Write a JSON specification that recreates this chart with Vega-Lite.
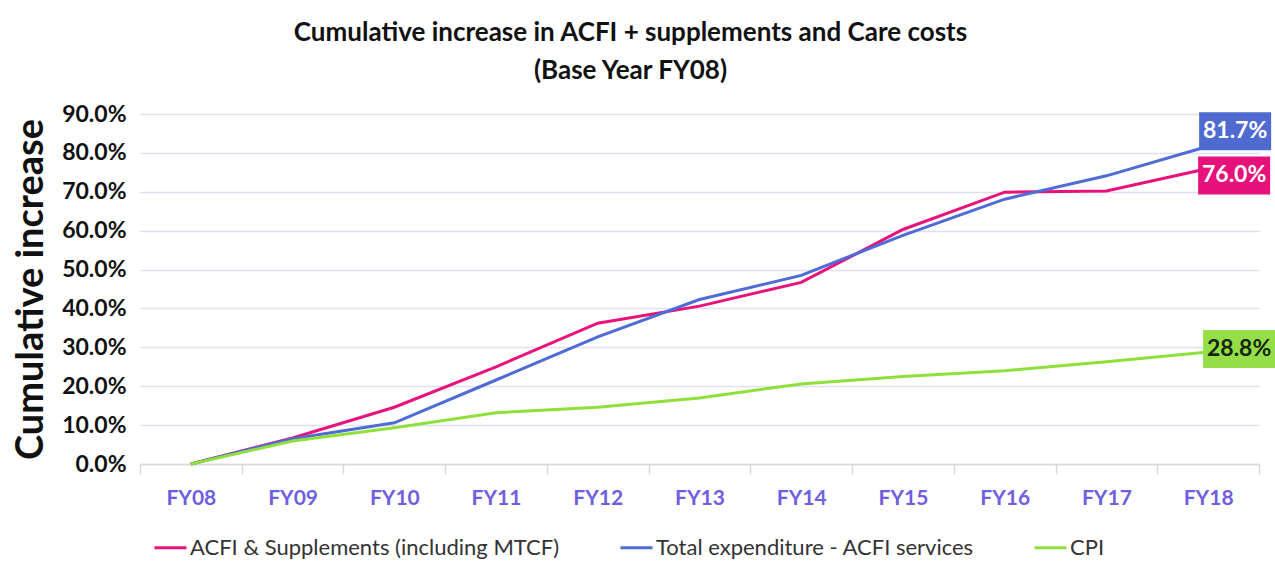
{
  "$schema": "https://vega.github.io/schema/vega-lite/v6.json",
  "width": 1119,
  "height": 350,
  "autosize": {"type": "none"},
  "padding": {"left": 140, "top": 114, "right": 16, "bottom": 97},
  "background": "white",
  "title": {
    "text": ["Cumulative increase in ACFI + supplements and Care costs", "(Base Year FY08)"],
    "font": "Lato", "fontSize": 26, "fontWeight": "bold", "color": "#111111",
    "lineHeight": 38, "anchor": "middle", "frame": "group", "dx": -69, "offset": 19
  },
  "config": {"view": {"stroke": null}},
  "data": {"values": [
    {"year": "FY08", "series": "ACFI & Supplements (including MTCF)", "value": 0},
    {"year": "FY09", "series": "ACFI & Supplements (including MTCF)", "value": 0.067},
    {"year": "FY10", "series": "ACFI & Supplements (including MTCF)", "value": 0.146},
    {"year": "FY11", "series": "ACFI & Supplements (including MTCF)", "value": 0.250},
    {"year": "FY12", "series": "ACFI & Supplements (including MTCF)", "value": 0.362},
    {"year": "FY13", "series": "ACFI & Supplements (including MTCF)", "value": 0.406},
    {"year": "FY14", "series": "ACFI & Supplements (including MTCF)", "value": 0.467},
    {"year": "FY15", "series": "ACFI & Supplements (including MTCF)", "value": 0.603},
    {"year": "FY16", "series": "ACFI & Supplements (including MTCF)", "value": 0.699},
    {"year": "FY17", "series": "ACFI & Supplements (including MTCF)", "value": 0.702},
    {"year": "FY18", "series": "ACFI & Supplements (including MTCF)", "value": 0.760},
    {"year": "FY08", "series": "Total expenditure - ACFI services", "value": 0},
    {"year": "FY09", "series": "Total expenditure - ACFI services", "value": 0.065},
    {"year": "FY10", "series": "Total expenditure - ACFI services", "value": 0.106},
    {"year": "FY11", "series": "Total expenditure - ACFI services", "value": 0.216},
    {"year": "FY12", "series": "Total expenditure - ACFI services", "value": 0.327},
    {"year": "FY13", "series": "Total expenditure - ACFI services", "value": 0.423},
    {"year": "FY14", "series": "Total expenditure - ACFI services", "value": 0.485},
    {"year": "FY15", "series": "Total expenditure - ACFI services", "value": 0.588},
    {"year": "FY16", "series": "Total expenditure - ACFI services", "value": 0.681},
    {"year": "FY17", "series": "Total expenditure - ACFI services", "value": 0.741},
    {"year": "FY18", "series": "Total expenditure - ACFI services", "value": 0.817},
    {"year": "FY08", "series": "CPI", "value": 0},
    {"year": "FY09", "series": "CPI", "value": 0.059},
    {"year": "FY10", "series": "CPI", "value": 0.093},
    {"year": "FY11", "series": "CPI", "value": 0.132},
    {"year": "FY12", "series": "CPI", "value": 0.146},
    {"year": "FY13", "series": "CPI", "value": 0.170},
    {"year": "FY14", "series": "CPI", "value": 0.206},
    {"year": "FY15", "series": "CPI", "value": 0.225},
    {"year": "FY16", "series": "CPI", "value": 0.240},
    {"year": "FY17", "series": "CPI", "value": 0.263},
    {"year": "FY18", "series": "CPI", "value": 0.288}
  ]},
  "encoding": {
    "x": {
      "field": "year", "type": "nominal", "bandPosition": 0.5,
      "scale": {"type": "band", "paddingInner": 0, "paddingOuter": 0},
      "axis": {
        "title": null, "labelAngle": 0, "tickBand": "extent",
        "labelFont": "Lato", "labelFontWeight": "bold", "labelFontSize": 21, "labelColor": "#6f5fe0",
        "domainColor": "#d9d9d9", "domainWidth": 1.5, "tickColor": "#d9d9d9", "tickSize": 10, "tickWidth": 1.5,
        "grid": false, "labelPadding": 13
      }
    },
    "y": {
      "field": "value", "type": "quantitative",
      "scale": {"domain": [0, 0.9], "nice": false},
      "axis": {
        "title": "Cumulative increase", "format": ".1%",
        "values": [0, 0.1, 0.2, 0.3, 0.4, 0.5, 0.6, 0.7, 0.8, 0.9],
        "domain": false, "ticks": false, "grid": true, "gridColor": "#e0e0ee", "gridWidth": 1.5,
        "labelFont": "Lato", "labelFontSize": 23, "labelFontWeight": "bold", "labelColor": "#111111", "labelPadding": 14,
        "titleFont": "Lato", "titleFontSize": 38, "titleFontWeight": "bold", "titleColor": "#111111", "titlePadding": 11
      }
    }
  },
  "layer": [
    {
      "mark": {"type": "line", "strokeWidth": 3},
      "encoding": {
        "color": {
          "field": "series", "type": "nominal",
          "scale": {
            "domain": ["ACFI & Supplements (including MTCF)", "Total expenditure - ACFI services", "CPI"],
            "range": ["#e8137a", "#4f6bd6", "#8fe03a"]
          },
          "legend": {
            "orient": "none", "legendX": 13, "legendY": 416, "direction": "horizontal", "title": null,
            "symbolType": "stroke", "symbolSize": 1024, "symbolStrokeWidth": 3,
            "labelFont": "Lato", "labelFontSize": 22, "labelColor": "#333333", "columnPadding": 54, "labelOffset": 2,
            "labelLimit": 600
          }
        },
        "order": {"field": "year"}
      }
    },
    {
      "transform": [{"filter": "datum.year === 'FY18' && datum.series === 'Total expenditure - ACFI services'"}],
      "layer": [
        {"mark": {"type": "point", "shape": "M-1,-0.528L1,-0.528L1,0.528L-1,0.528Z", "size": 5184, "filled": true, "opacity": 1, "color": "#4f6bd2", "xOffset": 27, "yOffset": -15}},
        {"mark": {"type": "text", "font": "Lato", "fontSize": 23, "fontWeight": "bold", "color": "white", "xOffset": 27, "yOffset": -15, "baseline": "middle", "align": "center"},
         "encoding": {"text": {"field": "value", "type": "quantitative", "format": ".1%"}}}
      ]
    },
    {
      "transform": [{"filter": "datum.year === 'FY18' && datum.series === 'ACFI & Supplements (including MTCF)'"}],
      "layer": [
        {"mark": {"type": "point", "shape": "M-1,-0.528L1,-0.528L1,0.528L-1,0.528Z", "size": 5184, "filled": true, "opacity": 1, "color": "#e4127a", "xOffset": 26, "yOffset": 7}},
        {"mark": {"type": "text", "font": "Lato", "fontSize": 23, "fontWeight": "bold", "color": "white", "xOffset": 26, "yOffset": 7, "baseline": "middle", "align": "center"},
         "encoding": {"text": {"field": "value", "type": "quantitative", "format": ".1%"}}}
      ]
    },
    {
      "transform": [{"filter": "datum.year === 'FY18' && datum.series === 'CPI'"}],
      "layer": [
        {"mark": {"type": "point", "shape": "M-1,-0.528L1,-0.528L1,0.528L-1,0.528Z", "size": 5184, "filled": true, "opacity": 1, "color": "#95de48", "xOffset": 31, "yOffset": -3}},
        {"mark": {"type": "text", "font": "Lato", "fontSize": 23, "fontWeight": "bold", "color": "#152510", "xOffset": 31, "yOffset": -3, "baseline": "middle", "align": "center"},
         "encoding": {"text": {"field": "value", "type": "quantitative", "format": ".1%"}}}
      ]
    }
  ]
}
